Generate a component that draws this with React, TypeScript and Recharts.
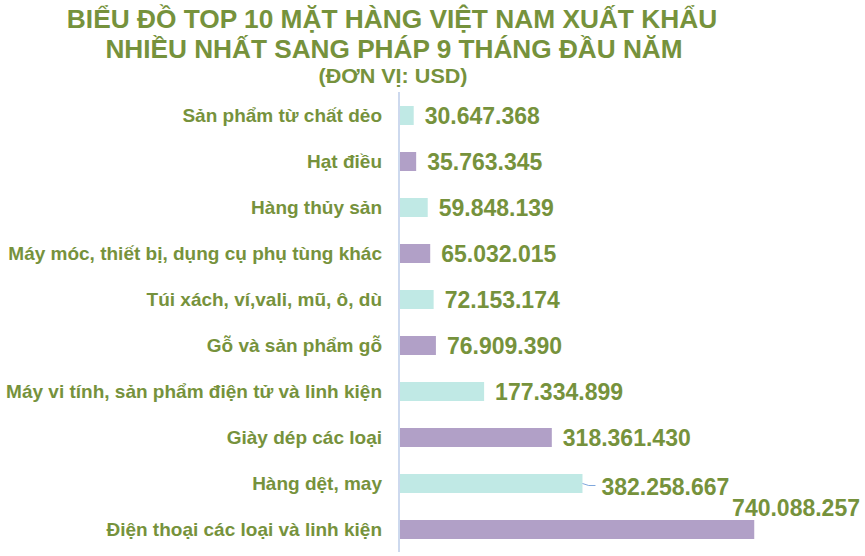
import { BarChart, Bar, XAxis, YAxis, Cell, LabelList } from 'recharts';

const categories = [
    'Sản phẩm từ chất dẻo',
    'Hạt điều',
    'Hàng thủy sản',
    'Máy móc, thiết bị, dụng cụ phụ tùng khác',
    'Túi xách, ví,vali, mũ, ô, dù',
    'Gỗ và sản phẩm gỗ',
    'Máy vi tính, sản phẩm điện tử và linh kiện',
    'Giày dép các loại',
    'Hàng dệt, may',
    'Điện thoại các loại và linh kiện',
];

const values = [
    30647368, 35763345, 59848139, 65032015, 72153174, 76909390, 177334899, 318361430, 382258667,
    740088257,
];

const titleLines = [
    'BIỂU ĐỒ TOP 10 MẶT HÀNG VIỆT NAM XUẤT KHẨU',
    'NHIỀU NHẤT SANG PHÁP 9 THÁNG ĐẦU NĂM',
    '(ĐƠN VỊ: USD)',
];

const COLORS = ['#c0e9e5', '#b1a0c7'];
const TEXT = '#76923c';
const FONT = '"Liberation Sans", Arial, sans-serif';
const LABEL_SIZE = 23;

const data = categories.map((name, i) => ({ name, value: values[i] }));

const fmt = (v: number) => String(v).replace(/\B(?=(\d{3})+(?!\d))/g, '.');

const renderLabel = (props: any) => {
    const { x, y, width, height, value, index } = props;
    const text = fmt(Number(value));
    const digits = text.replace(/\./g, '').length;
    const textW = (digits * 0.556 + (text.length - digits) * 0.278) * LABEL_SIZE;
    const cy = y + height / 2;
    let tx = x + width + 11;
    // label that does not fit goes above the bar, right aligned
    if (tx + textW > 862) {
        return (
            <text x={860} y={cy - 22} textAnchor="end" dominantBaseline="central"
                fill={TEXT} fontSize={LABEL_SIZE} fontWeight="bold" fontFamily={FONT}>
                {text}
            </text>
        );
    }
    // the label just above it was nudged right, with a leader line
    const nudged = index === values.length - 2;
    if (nudged) tx += 8;
    return (
        <g>
            {nudged && (
                <path d={`M${x + width},${cy} Q${x + width + 6},${cy + 3} ${x + width + 13},${cy + 2}`}
                    stroke="#7fa7dc" strokeWidth={1} fill="none" />
            )}
            <text x={tx} y={cy + (nudged ? 3 : 0)} dominantBaseline="central"
                fill={TEXT} fontSize={LABEL_SIZE} fontWeight="bold" fontFamily={FONT}>
                {text}
            </text>
        </g>
    );
};

const TitleText = ({ x, y, size, sx, children }: any) => (
    <text transform={`translate(${x},${y}) scale(${sx},1)`} textAnchor="middle" fill={TEXT}
        fontSize={size} fontWeight="bold" fontFamily={FONT}>
        {children}
    </text>
);

export default function App() {
    return (
        <div style={{ position: 'absolute', left: 0, top: 0, width: 865, height: 556, background: '#fff' }}>
            <svg width={865} height={92} style={{ position: 'absolute', left: 0, top: 0 }}>
                <TitleText x={392} y={28} size={25} sx={1.052}>{titleLines[0]}</TitleText>
                <TitleText x={394} y={58} size={25} sx={1.048}>{titleLines[1]}</TitleText>
                <TitleText x={393} y={83} size={20} sx={1.08}>{titleLines[2]}</TitleText>
            </svg>
            <div style={{ position: 'absolute', left: 0, top: 0 }}>
                <BarChart
                    width={865}
                    height={556}
                    data={data}
                    layout="vertical"
                    margin={{ top: 92, right: 82, bottom: 4, left: 0 }}
                >
                    <XAxis type="number" hide domain={[0, 800000000]} />
                    <YAxis
                        type="category"
                        dataKey="name"
                        width={399}
                        tickLine={false}
                        tickSize={0}
                        tickMargin={17}
                        interval={0}
                        axisLine={{ stroke: '#cdd9ee', strokeWidth: 2 }}
                        tick={{ fill: TEXT, fontSize: 19, fontWeight: 'bold', fontFamily: FONT }}
                    />
                    <Bar dataKey="value" barSize={19} isAnimationActive={false}>
                        {data.map((_, i) => (
                            <Cell key={`cell-${i}`} fill={COLORS[i % 2]} />
                        ))}
                        <LabelList dataKey="value" content={renderLabel} />
                    </Bar>
                </BarChart>
            </div>
        </div>
    );
}
